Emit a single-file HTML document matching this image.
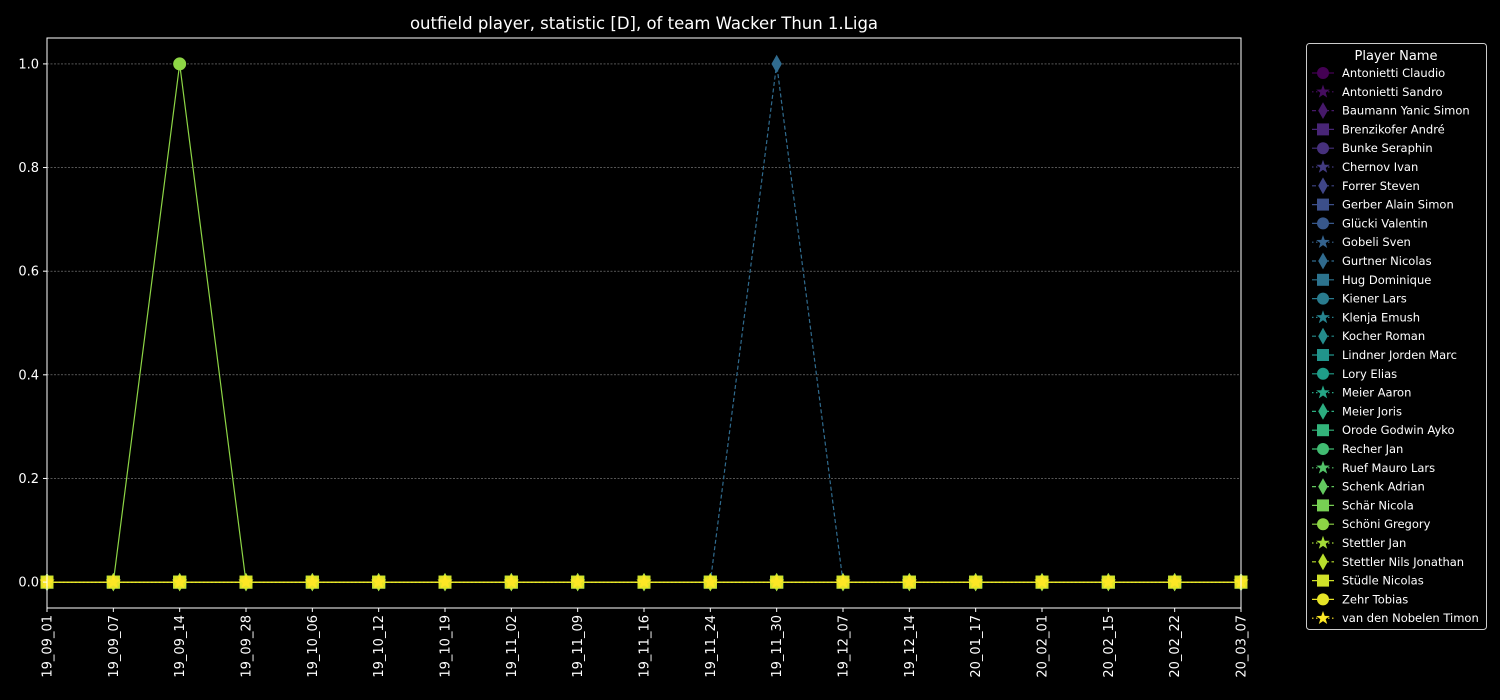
<!DOCTYPE html>
<html><head><meta charset="utf-8"><style>
body{margin:0;background:#000;}
svg{display:block;font-family:"DejaVu Sans","Liberation Sans",sans-serif;}
</style></head><body>
<svg id="chart" width="1500" height="700">
<rect width="1500" height="700" fill="#000"/>
<text x="644" y="29" fill="#fff" font-size="16.5" text-anchor="middle">outfield player, statistic [D], of team Wacker Thun 1.Liga</text>
<g id="grid"></g><g id="series"></g>
<rect x="47" y="38" width="1194" height="570" fill="none" stroke="#fff" stroke-width="1"/>
<g id="axes"></g>
<g id="legend"></g>
</svg>
<script>
const dates=["19_09_01","19_09_07","19_09_14","19_09_28","19_10_06","19_10_12","19_10_19","19_11_02","19_11_09","19_11_16","19_11_24","19_11_30","19_12_07","19_12_14","20_01_17","20_02_01","20_02_15","20_02_22","20_03_07"];
const players=["Antonietti Claudio","Antonietti Sandro","Baumann Yanic Simon","Brenzikofer André","Bunke Seraphin","Chernov Ivan","Forrer Steven","Gerber Alain Simon","Glücki Valentin","Gobeli Sven","Gurtner Nicolas","Hug Dominique","Kiener Lars","Klenja Emush","Kocher Roman","Lindner Jorden Marc","Lory Elias","Meier Aaron","Meier Joris","Orode Godwin Ayko","Recher Jan","Ruef Mauro Lars","Schenk Adrian","Schär Nicola","Schöni Gregory","Stettler Jan","Stettler Nils Jonathan","Stüdle Nicolas","Zehr Tobias","van den Nobelen Timon"];
const schoniValues=[0,0,1,0,0,0,0,0,0,0,0,0,0,0,0,0,0,0,0];
const gurtnerValues=[0,0,0,0,0,0,0,0,0,0,0,1,0,0,0,0,0,0,0];
const yTicks=[0,0.2,0.4,0.6,0.8,1.0];
const yTickLabels=["0.0","0.2","0.4","0.6","0.8","1.0"];
const values=players.map(p=>p==="Schöni Gregory"?schoniValues:p==="Gurtner Nicolas"?gurtnerValues:dates.map(()=>0));

const X0=47,X1=1241,Y0=608,Y1=38,ymin=-0.05,ymax=1.05;
const xs=i=>X0+i*(X1-X0)/(dates.length-1);
const ys=v=>Y0-(v-ymin)/(ymax-ymin)*(Y0-Y1);
const NS="http://www.w3.org/2000/svg";
function mk(t,a,p){const e=document.createElementNS(NS,t);for(const k in a)e.setAttribute(k,a[k]);p.appendChild(e);return e;}
const vir=[[68,1,84],[72,40,120],[62,74,137],[49,104,142],[38,130,142],[31,158,137],[53,183,121],[109,205,89],[180,222,44],[253,231,37]];
function col(t){const s=t*(vir.length-1),i=Math.min(Math.floor(s),vir.length-2),f=s-i;const c=vir[i].map((v,k)=>Math.round(v+(vir[i+1][k]-v)*f));return `rgb(${c})`;}
const dash=["",  "1.5,2.5","4,2.5",""];
function marker(g,type,x,y,c,s){
 if(type===0)return mk("circle",{cx:x,cy:y,r:5*s,fill:c},g);
 if(type===3)return mk("rect",{x:x-5*s,y:y-5*s,width:10*s,height:10*s,fill:c},g);
 if(type===2)return mk("polygon",{points:`${x},${y-7*s} ${x+4*s},${y} ${x},${y+7*s} ${x-4*s},${y}`,fill:c},g);
 let p=[];for(let k=0;k<10;k++){const r=k%2?2.4*s:6*s,a=-Math.PI/2+k*Math.PI/5;p.push((x+r*Math.cos(a)).toFixed(1)+","+(y+r*Math.sin(a)).toFixed(1));}
 return mk("polygon",{points:p.join(" "),fill:c},g);
}
const grid=document.getElementById("grid"),axes=document.getElementById("axes");
yTicks.forEach((v,i)=>{
 const gl=mk("line",{x1:X0,x2:X1,y1:ys(v),y2:ys(v),stroke:"#888","stroke-width":0.6,"stroke-dasharray":"2,1.5"},grid);
 
 
 mk("line",{x1:X0-4,x2:X0,y1:ys(v),y2:ys(v),stroke:"#fff"},axes);
 const t=mk("text",{x:X0-8,y:ys(v)+4.5,fill:"#fff","font-size":13,"text-anchor":"end"},axes);t.textContent=yTickLabels[i];
 
 
});
dates.forEach((d,i)=>{
 mk("line",{x1:xs(i),x2:xs(i),y1:Y0,y2:Y0+4,stroke:"#fff"},axes);
 const t=mk("text",{x:0,y:0,fill:"#fff","font-size":13,"text-anchor":"end",transform:`translate(${xs(i)+4.5},${Y0+7}) rotate(-90)`},axes);t.textContent=d;
 
 
});
const sg=document.getElementById("series");
players.forEach((p,j)=>{
 const c=col(j/(players.length-1)),m=j%4;
 const g=mk("g",{},sg);
 
 
 const pts=values[j].map((v,i)=>xs(i)+","+ys(v)).join(" ");
 const a={points:pts,fill:"none",stroke:c,"stroke-width":1.2};if(dash[m])a["stroke-dasharray"]=dash[m];
 mk("polyline",a,g);
 values[j].forEach((v,i)=>marker(g,m,xs(i),ys(v),c,1.3));
});
const lg=document.getElementById("legend");
const box=mk("rect",{x:1306.5,y:43.5,width:180,height:586,rx:3,fill:"#000",stroke:"#ccc","stroke-width":1},lg);


const lt=mk("text",{x:1396,y:60,fill:"#fff","font-size":13,"text-anchor":"middle"},lg);lt.textContent="Player Name";


players.forEach((p,j)=>{
 const c=col(j/(players.length-1)),m=j%4,y=73+j*18.8;
 const g=mk("g",{},lg);
 
 
 const a={x1:1312,x2:1334,y1:y,y2:y,stroke:c,"stroke-width":1.2};if(dash[m])a["stroke-dasharray"]=dash[m];
 mk("line",a,g);marker(g,m,1323,y,c,1.2);
 const t=mk("text",{x:1342,y:y+4,fill:"#fff","font-size":11.5},g);t.textContent=p;
});
</script>
</body></html>
